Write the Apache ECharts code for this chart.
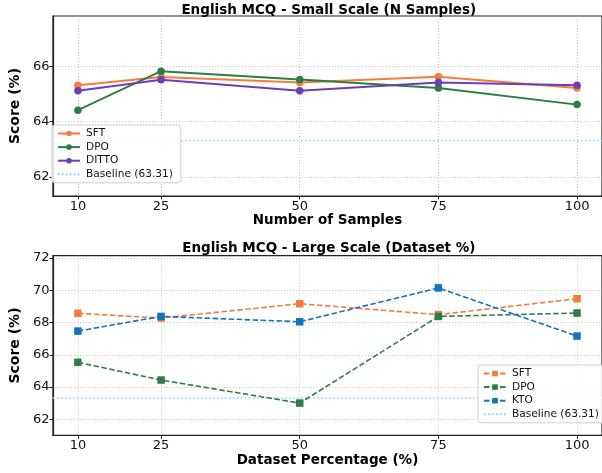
<!DOCTYPE html>
<html>
<head>
<meta charset="utf-8">
<script src="https://cdn.jsdelivr.net/npm/echarts@6/dist/echarts.min.js"></script>
<style>
html,body{margin:0;padding:0;background:#fff;}
#chart{width:602px;height:473px;}
</style>
</head>
<body>
<div id="chart"></div>
<script>
// ---- data ----
const xValues = [10, 25, 50, 75, 100];
const baselineValue = 63.31;

const sftSmall   = [65.32, 65.62, 65.42, 65.63, 65.22];
const dpoSmall   = [64.42, 65.83, 65.53, 65.22, 64.62];
const dittoSmall = [65.12, 65.52, 65.12, 65.42, 65.32];

const sftLarge = [68.57, 68.28, 69.17, 68.49, 69.48];
const dpoLarge = [65.53, 64.43, 63.00, 68.38, 68.59];
const ktoLarge = [67.47, 68.38, 68.05, 70.15, 67.16];

const yTicksSmall = [62, 64, 66];
const yTicksLarge = [62, 64, 66, 68, 70, 72];

const titleSmall = 'English MCQ - Small Scale (N Samples)';
const titleLarge = 'English MCQ - Large Scale (Dataset %)';
const xNameSmall = 'Number of Samples';
const xNameLarge = 'Dataset Percentage (%)';
const yName = 'Score (%)';
const baselineName = 'Baseline (' + baselineValue.toFixed(2) + ')';

// ---- styling ----
const FONT = 'DejaVu Sans';
const C = {sft: '#F47C3C', dpo: '#2E7D47', ditto: '#6B3FB5', kto: '#1473B9', base: '#87CEFA'};
const xMin = 5.5, xMax = 104.5;

const pairs = (ys) => xValues.map((x, i) => [x, ys[i]]);

function xAxisCfg(gridIndex, name) {
  return {
    type: 'value', gridIndex, min: xMin, max: xMax,
    name, nameLocation: 'middle', nameGap: 17,
    nameTextStyle: {fontFamily: FONT, fontWeight: 'bold', fontSize: 13.5, color: '#000'},
    axisLine: {show: true, onZero: false, lineStyle: {color: '#222', width: 1.2}},
    axisTick: {show: true, length: 3.5, customValues: xValues, lineStyle: {color: '#222'}},
    axisLabel: {customValues: xValues, margin: 4, fontFamily: FONT, fontSize: 13, color: '#111'},
    splitLine: {show: true, lineStyle: {color: '#b8b8b8', width: 0.8, type: [1, 2]}}
  };
}
function yAxisCfg(gridIndex, min, max, ticks) {
  return {
    type: 'value', gridIndex, min, max,
    name: yName, nameLocation: 'middle', nameGap: 22,
    nameTextStyle: {fontFamily: FONT, fontWeight: 'bold', fontSize: 14, color: '#000'},
    axisLine: {show: true, lineStyle: {color: '#222', width: 1.2}},
    axisTick: {show: true, length: 3.5, customValues: ticks, lineStyle: {color: '#222'}},
    axisLabel: {customValues: ticks, margin: 3.5, fontFamily: FONT, fontSize: 13, color: '#111'},
    splitLine: {show: true, lineStyle: {color: '#b8b8b8', width: 0.8, type: [1, 2]}}
  };
}
function solidSeries(name, ys, color) {
  return {
    name, type: 'line', xAxisIndex: 0, yAxisIndex: 0, data: pairs(ys),
    symbol: 'circle', symbolSize: 7.5, showSymbol: true,
    lineStyle: {color, width: 1.9}, itemStyle: {color, borderWidth: 0}, z: 3
  };
}
function dashedSeries(name, ys, color) {
  return {
    name, type: 'line', xAxisIndex: 1, yAxisIndex: 1, data: pairs(ys),
    symbol: 'rect', symbolSize: 7.5, showSymbol: true,
    lineStyle: {color, width: 1.6, type: [5.5, 2.5]}, itemStyle: {color, borderWidth: 0}, z: 3
  };
}
function baselineSeries(idx, name) {
  return {
    name, type: 'line', xAxisIndex: idx, yAxisIndex: idx,
    data: [[xMin, baselineValue], [xMax, baselineValue]],
    symbol: 'none', lineStyle: {color: C.base, width: 1.5, type: [1.5, 2.5]},
    itemStyle: {color: C.base}, z: 2, silent: true
  };
}
function legendCfg(left, top, names, baseName) {
  return {
    orient: 'vertical', left, top,
    data: names.map(n => n === baseName ? {name: n, itemStyle: {opacity: 0}} : {name: n}),
    itemWidth: 22, itemHeight: 7, itemGap: 2.6,
    padding: [3, 8, 3, 5],
    backgroundColor: 'rgba(255,255,255,0.85)', borderColor: '#d0d0d0', borderWidth: 1, borderRadius: 3,
    textStyle: {fontFamily: FONT, fontSize: 10.6, color: '#111', padding: [0, 0, 0, 1]}
  };
}

const chart = echarts.init(document.getElementById('chart'), null, {renderer: 'canvas'});
chart.setOption({
  animation: false,
  backgroundColor: '#fff',
  title: [
    {text: titleSmall, left: 328.8, top: 3, textAlign: 'center', padding: 0,
     textStyle: {fontFamily: FONT, fontWeight: 'bold', fontSize: 13.5, color: '#000'}},
    {text: titleLarge, left: 328.8, top: 241, textAlign: 'center', padding: 0,
     textStyle: {fontFamily: FONT, fontWeight: 'bold', fontSize: 13.5, color: '#000'}}
  ],
  grid: [
    {left: 47.7, right: -7.8, top: 16, bottom: 277, show: true, borderColor: '#222', borderWidth: 1.2, backgroundColor: 'transparent'},
    {left: 47.7, right: -7.8, top: 255.7, bottom: 37.7, show: true, borderColor: '#222', borderWidth: 1.2, backgroundColor: 'transparent'}
  ],
  xAxis: [xAxisCfg(0, xNameSmall), xAxisCfg(1, xNameLarge)],
  yAxis: [
    yAxisCfg(0, baselineValue - 2, Math.max(...dpoSmall) + 2, yTicksSmall),
    yAxisCfg(1, Math.min(...dpoLarge) - 2, Math.max(...ktoLarge) + 2, yTicksLarge)
  ],
  legend: [
    legendCfg(52, 125, ['SFT', 'DPO', 'DITTO', baselineName], baselineName),
    legendCfg(478, 365, ['SFT ', 'DPO ', 'KTO', baselineName + ' '], baselineName + ' ')
  ],
  series: [
    baselineSeries(0, baselineName),
    solidSeries('SFT', sftSmall, C.sft),
    solidSeries('DPO', dpoSmall, C.dpo),
    solidSeries('DITTO', dittoSmall, C.ditto),
    baselineSeries(1, baselineName + ' '),
    dashedSeries('SFT ', sftLarge, C.sft),
    dashedSeries('DPO ', dpoLarge, C.dpo),
    dashedSeries('KTO', ktoLarge, C.kto)
  ]
});
</script>
</body>
</html>
